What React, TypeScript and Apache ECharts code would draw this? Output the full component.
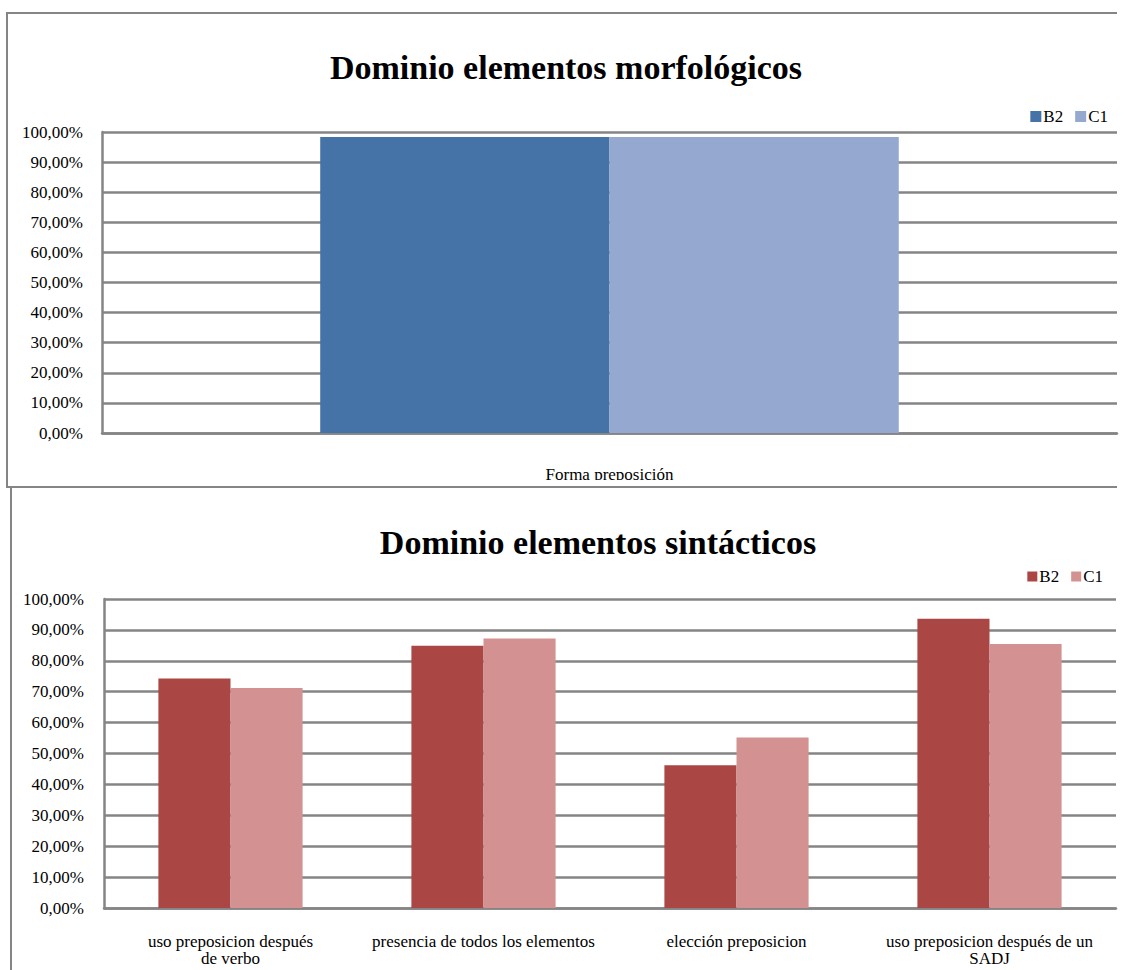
import React, { useEffect, useRef } from "react";
import * as echarts from "echarts";

// Morphological chart
const morphCategories = ["Forma preposición"];
const morphB2 = [98.3];
const morphC1 = [98.3];

// Syntactic chart
const syntCategories = [
  "uso preposicion después\nde verbo",
  "presencia de todos los elementos",
  "elección preposicion",
  "uso preposicion después de un\nSADJ",
];
const syntB2 = [74.3, 84.9, 46.2, 93.6];
const syntC1 = [71.2, 87.2, 55.2, 85.4];

const yTicks = [0, 10, 20, 30, 40, 50, 60, 70, 80, 90, 100];

const FONT = "'Liberation Serif', 'Times New Roman', serif";
const GRID_GRAY = "#858585";

const pct = (v: number) => `${v},00%`;

export default function App() {
  const ref = useRef<HTMLDivElement>(null);

  useEffect(() => {
    if (!ref.current) return;
    const chart = echarts.init(ref.current, null, { renderer: "svg" });

    const yAxisBase = (gridIndex: number, margin: number) => ({
      type: "value" as const,
      gridIndex,
      min: yTicks[0],
      max: yTicks[yTicks.length - 1],
      interval: 10,
      axisLine: { show: true, lineStyle: { color: GRID_GRAY, width: 2.5 } },
      axisTick: { show: false },
      splitLine: { show: true, lineStyle: { color: GRID_GRAY, width: 2.5 } },
      axisLabel: {
        formatter: (v: number) => pct(v),
        color: "#000",
        fontFamily: FONT,
        fontSize: 17,
        margin,
      },
    });

    chart.setOption({
      animation: false,
      backgroundColor: "#fff",
      grid: [
        { left: 102, top: 132, right: 7, height: 301 },
        { left: 104, top: 599, right: 8, height: 309 },
      ],
      legend: [
        {
          right: 11,
          top: 103,
          itemWidth: 11,
          itemHeight: 11,
          itemGap: 12,
          icon: "rect",
          textStyle: { fontFamily: FONT, fontSize: 17, color: "#000", padding: [0, 0, 0, -3] },
          data: [
            { name: "B2", itemStyle: { color: "#4572A7" } },
            { name: "C1", itemStyle: { color: "#95A9D0" } },
          ],
          selectedMode: false,
        },
        {
          right: 16,
          top: 563,
          itemWidth: 10,
          itemHeight: 10,
          itemGap: 12,
          icon: "rect",
          textStyle: { fontFamily: FONT, fontSize: 17, color: "#000", padding: [0, 0, 0, -3] },
          data: [
            { name: "B2", itemStyle: { color: "#AA4643" } },
            { name: "C1", itemStyle: { color: "#D39291" } },
          ],
          selectedMode: false,
        },
      ],
      xAxis: [
        {
          type: "category",
          gridIndex: 0,
          data: morphCategories,
          axisLine: { show: true, lineStyle: { color: GRID_GRAY, width: 2.5 } },
          axisTick: { show: false },
          axisLabel: { color: "#000", fontFamily: FONT, fontSize: 17, margin: 33 },
        },
        {
          type: "category",
          gridIndex: 1,
          data: syntCategories,
          axisLine: { show: true, lineStyle: { color: GRID_GRAY, width: 2.5 } },
          axisTick: { show: false },
          axisLabel: {
            interval: 0,
            color: "#000",
            fontFamily: FONT,
            fontSize: 17,
            lineHeight: 17,
            margin: 25,
          },
        },
      ],
      yAxis: [yAxisBase(0, 19), yAxisBase(1, 20)],
      series: [
        {
          name: "B2",
          type: "bar",
          xAxisIndex: 0,
          yAxisIndex: 0,
          data: morphB2,
          itemStyle: { color: "#4572A7" },
          barGap: "0%",
          barCategoryGap: "43%",
        },
        {
          name: "C1",
          type: "bar",
          xAxisIndex: 0,
          yAxisIndex: 0,
          data: morphC1,
          itemStyle: { color: "#95A9D0" },
          barGap: "0%",
          barCategoryGap: "43%",
        },
        {
          name: "B2",
          type: "bar",
          xAxisIndex: 1,
          yAxisIndex: 1,
          data: syntB2,
          itemStyle: { color: "#AA4643" },
          barGap: "0%",
          barCategoryGap: "43%",
        },
        {
          name: "C1",
          type: "bar",
          xAxisIndex: 1,
          yAxisIndex: 1,
          data: syntC1,
          itemStyle: { color: "#D39291" },
          barGap: "0%",
          barCategoryGap: "43%",
        },
      ],
      graphic: [
        // titles
        {
          type: "text",
          style: {
            text: "Dominio elementos morfológicos",
            x: 566,
            y: 67,
            align: "center",
            verticalAlign: "middle",
            font: `bold 34px ${FONT}`,
            fill: "#000",
          },
        },
        {
          type: "text",
          style: {
            text: "Dominio elementos sintácticos",
            x: 598,
            y: 542,
            align: "center",
            verticalAlign: "middle",
            font: `bold 34px ${FONT}`,
            fill: "#000",
          },
        },
        // bottom edge of the upper chart frame, covering the overflow of its axis label
        {
          type: "rect",
          z: 100,
          shape: { x: 9, y: 480, width: 1115, height: 7 },
          style: { fill: "#fff" },
        },
        {
          type: "polyline",
          z: 101,
          shape: { points: [[1117, 13], [7, 13], [7, 487], [1117, 487]] },
          style: { stroke: GRID_GRAY, lineWidth: 2, fill: "none" },
        },
        {
          type: "line",
          z: 101,
          shape: { x1: 11, y1: 487, x2: 11, y2: 972 },
          style: { stroke: GRID_GRAY, lineWidth: 2 },
        },
      ],
    });

    return () => chart.dispose();
  }, []);

  return (
    <div
      ref={ref}
      style={{ position: "absolute", left: 0, top: 0, width: 1124, height: 970 }}
    />
  );
}
